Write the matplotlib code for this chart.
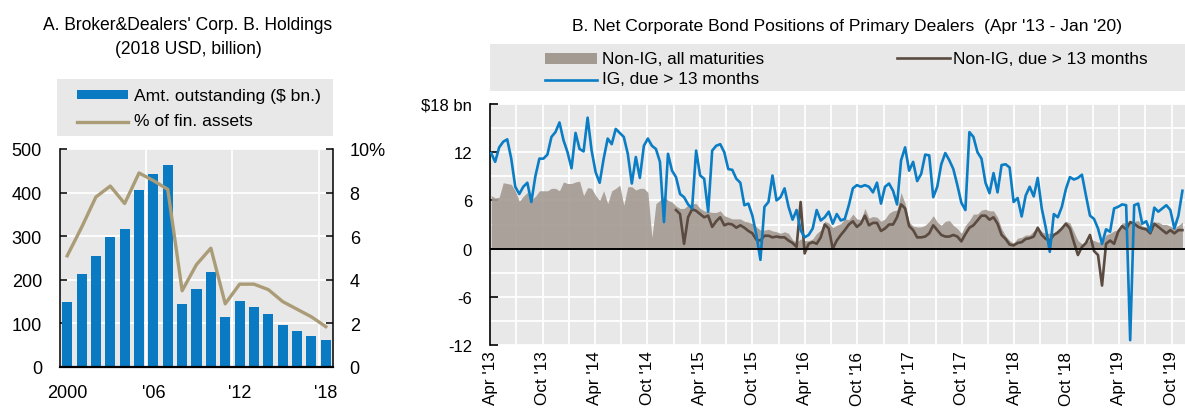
import numpy as np
import pandas as pd
import matplotlib
matplotlib.use("Agg")
import matplotlib.pyplot as plt
import matplotlib.dates as mdates
from matplotlib.patches import Rectangle
from matplotlib.lines import Line2D
from matplotlib.ticker import FuncFormatter, FixedLocator

plt.rcParams['font.family'] = ['Liberation Sans', 'DejaVu Sans']

# ---------------- data: panel A ----------------
years = list(range(2000, 2019))
amt_outstanding = [150, 213, 255, 299, 316, 406, 443, 463, 144, 180, 217,
                   115, 152, 138, 121, 96, 82, 72, 61]
pct_fin_assets = [5.1, 6.4, 7.8, 8.3, 7.5, 8.9, 8.55, 8.15, 3.5, 4.7, 5.45,
                  2.9, 3.8, 3.8, 3.55, 3.0, 2.65, 2.3, 1.85]
left_xticks = [2000, 2006, 2012, 2018]
left_xlabels = ["2000", "'06", "'12", "'18"]

# ---------------- data: panel B (bi-weekly, $ bn) ----------------
series_start = "2013-04-05"
ig_13m = [11.9, 10.8, 12.6, 13.3, 13.6, 11.2, 7.7, 6.8, 7.7, 8.2,
          5.8, 9.0, 11.2, 11.2, 11.7, 13.9, 14.5, 15.7, 13.5, 12.0,
          10.0, 14.4, 12.4, 12.1, 16.3, 12.2, 9.5, 8.2, 11.2, 13.7,
          13.0, 14.9, 14.4, 13.9, 11.8, 8.1, 11.4, 8.8, 12.8, 13.7,
          12.8, 12.4, 10.8, 3.3, 11.8, 9.7, 8.9, 6.8, 6.4, 5.5,
          5.0, 12.2, 9.1, 8.7, 4.6, 12.2, 12.8, 13.0, 12.0, 9.9,
          9.8, 8.7, 8.2, 5.4, 5.6, 4.1, 1.7, -1.4, 5.2, 5.8,
          9.1, 6.0, 6.4, 7.5, 5.2, 3.6, 4.8, 2.3, 1.4, 1.7,
          2.5, 4.8, 3.5, 3.9, 4.6, 3.1, 4.3, 3.5, 3.7, 5.4,
          7.5, 7.9, 7.7, 7.9, 7.7, 7.0, 8.2, 5.6, 7.7, 8.1,
          7.2, 5.5, 11.0, 12.6, 9.7, 10.8, 8.4, 9.3, 11.7, 11.6,
          6.4, 7.7, 10.5, 11.9, 11.0, 9.9, 7.9, 5.7, 4.8, 14.5,
          13.9, 12.0, 11.2, 8.2, 6.9, 9.4, 7.0, 10.4, 10.5, 10.1,
          5.8, 6.3, 4.0, 6.6, 7.7, 6.5, 8.8, 5.0, 2.6, -0.4,
          4.3, 3.9, 5.2, 7.4, 8.9, 8.6, 8.8, 9.2, 6.6, 4.1,
          3.7, 2.5, 0.6, 2.4, 2.1, 5.0, 5.2, 5.5, 5.4, -11.4,
          5.4, 5.6, 3.1, 3.4, 2.1, 5.1, 4.6, 5.0, 5.4, 4.8,
          2.5, 4.1, 7.2]
non_ig_all = [6.6, 6.3, 6.4, 8.2, 8.1, 8.0, 7.2, 5.9, 6.5, 7.0,
              6.1, 6.5, 7.2, 7.2, 7.2, 7.5, 7.5, 7.2, 8.3, 8.1,
              8.1, 8.3, 8.4, 6.6, 7.6, 7.5, 6.6, 6.0, 7.2, 5.6,
              7.2, 7.5, 7.9, 5.4, 7.7, 7.7, 7.3, 7.5, 7.5, 7.0,
              1.4, 5.6, 6.0, 6.5, 6.0, 5.8, 5.3, 5.0, 5.0, 5.4,
              5.6, 5.6, 5.0, 4.7, 4.6, 4.5, 4.5, 4.7, 4.1, 3.9,
              3.7, 3.7, 3.7, 3.4, 3.3, 3.1, 2.7, 2.3, 2.3, 2.4,
              2.2, 2.1, 1.9, 2.1, 1.9, 1.1, 0.8, 1.2, 1.0, 1.0,
              1.2, 1.9, 2.3, 3.4, 3.2, 2.6, 2.9, 3.1, 3.7, 3.6,
              4.3, 3.7, 3.6, 5.0, 3.8, 4.0, 3.9, 3.4, 3.7, 4.4,
              4.7, 4.8, 7.0, 5.6, 3.3, 2.8, 2.7, 2.7, 2.9, 3.4,
              4.1, 3.3, 2.9, 3.4, 3.5, 2.9, 2.5, 1.9, 2.9, 3.5,
              4.3, 4.3, 4.8, 4.9, 4.7, 4.7, 3.9, 2.5, 1.6, 1.0,
              0.7, 1.3, 1.4, 1.7, 1.7, 2.2, 2.6, 2.1, 1.9, 1.9,
              1.9, 2.4, 2.7, 3.4, 3.2, 2.1, 1.0, 0.6, 0.7, 1.2,
              1.0, 0.8, 0.8, 1.7, 1.9, 2.2, 2.3, 3.2, 3.2, 3.4,
              3.4, 3.5, 2.8, 2.7, 2.8, 3.3, 3.3, 3.0, 3.0, 2.8,
              2.5, 2.9, 3.3]
non_ig_13m = [np.nan] * 46 + [
              4.8, 4.3, 0.6, 3.9,
              4.9, 4.7, 4.3, 3.9, 4.1, 2.7, 3.4, 3.9, 2.9, 3.1,
              3.0, 2.6, 2.9, 2.6, 2.2, 1.9, 1.1, 1.0, 1.6, 1.6,
              1.4, 1.5, 1.4, 1.4, 1.0, 0.7, 0.2, 5.8, -0.6, 0.6,
              0.8, 0.6, 1.4, 3.0, 2.5, 0.0, 1.0, 1.7, 2.3, 3.0,
              3.4, 2.7, 3.1, 4.1, 2.9, 3.2, 3.2, 2.2, 2.5, 3.0,
              3.0, 3.9, 5.5, 5.0, 2.8, 2.3, 1.4, 1.4, 1.5, 1.9,
              2.9, 2.3, 1.7, 1.5, 1.5, 1.7, 1.5, 0.9, 1.8, 2.6,
              2.9, 3.5, 4.1, 4.1, 3.6, 3.9, 3.1, 1.7, 1.2, 0.5,
              0.4, 0.7, 0.8, 1.2, 1.3, 1.5, 2.6, 1.7, 1.2, 1.0,
              1.7, 2.0, 2.5, 3.1, 2.5, 0.8, -0.8, 0.2, 0.7, 1.7,
              -0.3, -0.8, -4.6, 0.6, 1.0, 0.6, 2.1, 2.8, 2.4, 3.3,
              3.1, 2.7, 2.5, 2.4, 1.9, 3.1, 2.7, 2.3, 1.9, 2.3,
              1.9, 2.3, 2.3]
right_yticks = [-12, -6, 0, 6, 12, 18]
right_ylabels = ["-12", "-6", "0", "6", "12", "$18 bn"]

# ---------------- style ----------------
W, H = 1185, 410
BG = "#e8e8e8"
BAR_BLUE = "#0a7bc2"
TAN = "#ab9c78"
FILL_GRAY = "#a39a92"
BROWN = "#5a4a3f"
LINE_BLUE = "#0b7dc5"

fig = plt.figure(figsize=(W / 100, H / 100), dpi=100)


def fx(px):
    return px / W


def fy(py):
    return 1 - py / H


def fit_width(t, target_px):
    r = fig.canvas.get_renderer()
    w = t.get_window_extent(renderer=r).width
    t.set_fontsize(t.get_fontsize() * target_px / w)


# ================= Panel A =================
axA = fig.add_axes([fx(60), fy(368), fx(333) - fx(60), fy(150) - fy(368)])
axA.set_facecolor(BG)
axA.set_axisbelow(True)
axA.bar(years, amt_outstanding, width=0.7, color=BAR_BLUE, zorder=2)
axA.set_xlim(1999.5, 2018.5)
axA.set_ylim(0, 500)
axA.set_yticks(range(0, 501, 100))
axA.set_xticks(left_xticks)
axA.set_xticklabels(left_xlabels)
axA.xaxis.set_minor_locator(FixedLocator([2005.5, 2011.5, 2017.5]))
axA.grid(which='minor', axis='x', color='white', lw=1.3)
axA.grid(which='major', axis='y', color='white', lw=1.3)
axA.tick_params(axis='x', which='both', length=0, pad=12, labelsize=13)
axA.tick_params(axis='y', direction='in', length=5, width=1.1, pad=13, labelsize=13)
axA.spines['top'].set_visible(False)
axA.spines['right'].set_visible(False)
axA.spines['left'].set_linewidth(1.1)
axA.spines['bottom'].set_linewidth(1.6)

axA2 = axA.twinx()
axA2.plot(years, pct_fin_assets, color=TAN, lw=2.4, zorder=3)
axA2.set_ylim(0, 10)
axA2.set_yticks(range(0, 11, 2))
axA2.yaxis.set_major_formatter(FuncFormatter(lambda v, p: "10%" if v == 10 else f"{v:.0f}"))
axA2.tick_params(axis='y', direction='in', length=5, width=1.1, pad=12, labelsize=13)
axA2.spines['top'].set_visible(False)
axA2.spines['left'].set_visible(False)
axA2.spines['bottom'].set_visible(False)
axA2.spines['right'].set_linewidth(1.1)

# title A
tA1 = fig.text(fx(188), fy(26), "A. Broker&Dealers' Corp. B. Holdings",
               ha='center', va='center', fontsize=13)
tA2 = fig.text(fx(188), fy(49), "(2018 USD, billion)", ha='center', va='center', fontsize=13)
fit_width(tA1, 290)
tA2.set_fontsize(tA1.get_fontsize())

# legend A
fig.add_artist(Rectangle((fx(57), fy(137)), fx(333) - fx(57), fy(80) - fy(137),
                         transform=fig.transFigure, color=BG, lw=0))
fig.add_artist(Rectangle((fx(77), fy(100)), fx(128) - fx(77), fy(91) - fy(100),
                         transform=fig.transFigure, color=BAR_BLUE, lw=0))
fig.add_artist(Line2D([fx(77), fx(128)], [fy(123), fy(123)], transform=fig.transFigure,
                      color=TAN, lw=2.4))
tL1 = fig.text(fx(134), fy(96), "Amt. outstanding ($ bn.)", ha='left', va='center', fontsize=13)
fit_width(tL1, 186)
tL2 = fig.text(fx(134), fy(122), "% of fin. assets", ha='left', va='center',
               fontsize=tL1.get_fontsize())

# ================= Panel B =================
dates = pd.date_range(series_start, periods=len(ig_13m), freq='14D')
axB = fig.add_axes([fx(490), fy(346), 1 - fx(490), fy(105) - fy(346)])
axB.set_facecolor(BG)
axB.set_axisbelow(True)
axB.fill_between(dates, 0, non_ig_all, color=FILL_GRAY, alpha=0.9, lw=0, zorder=2)
axB.plot(dates, non_ig_13m, color=BROWN, lw=1.9, zorder=3)
axB.plot(dates, ig_13m, color=LINE_BLUE, lw=1.9, zorder=4)
axB.axhline(0, color='black', lw=1.4, zorder=5)

axB.set_xlim(pd.Timestamp("2013-04-01"), pd.Timestamp("2019-11-17"))
axB.set_ylim(-12, 18)
axB.set_yticks(right_yticks)
axB.set_yticklabels(right_ylabels)
axB.yaxis.set_minor_locator(FixedLocator(list(range(-12, 19, 3))))
axB.xaxis.set_major_locator(mdates.MonthLocator(bymonth=[4, 10], bymonthday=1))
axB.xaxis.set_minor_locator(mdates.MonthLocator(bymonth=[1, 4, 7, 10], bymonthday=1))
axB.xaxis.set_major_formatter(FuncFormatter(
    lambda v, p: mdates.num2date(v).strftime("%b '%y")))
axB.grid(which='both', axis='both', color='white', lw=1.3)
axB.tick_params(axis='x', which='both', length=0, pad=4, labelsize=12.3, labelrotation=90)
axB.tick_params(axis='y', which='major', direction='in', length=6, width=1.2, pad=13,
                labelsize=12)
axB.tick_params(axis='y', which='minor', length=0)
for s in ['top', 'right', 'bottom']:
    axB.spines[s].set_visible(False)
axB.spines['left'].set_linewidth(1.2)

# title B
tB = fig.text(fx(572), fy(27),
              "B. Net Corporate Bond Positions of Primary Dealers  (Apr '13 - Jan '20)",
              ha='left', va='center', fontsize=12.6)
fit_width(tB, 549)

# legend B
fig.add_artist(Rectangle((fx(490), fy(92)), 1 - fx(490), fy(45) - fy(92),
                         transform=fig.transFigure, color=BG, lw=0))
fig.add_artist(Rectangle((fx(545), fy(65)), fx(597) - fx(545), fy(54) - fy(65),
                         transform=fig.transFigure, color=FILL_GRAY, lw=0))
fig.add_artist(Line2D([fx(897), fx(950)], [fy(59), fy(59)], transform=fig.transFigure,
                      color=BROWN, lw=1.9))
fig.add_artist(Line2D([fx(545), fx(597)], [fy(81), fy(81)], transform=fig.transFigure,
                      color=LINE_BLUE, lw=1.9))
tg1 = fig.text(fx(602), fy(59), "Non-IG, all maturities", ha='left', va='center',
               fontsize=12.3)
fit_width(tg1, 163)
fsB = tg1.get_fontsize()
fig.text(fx(953), fy(59), "Non-IG, due > 13 months", ha='left', va='center', fontsize=fsB)
fig.text(fx(602), fy(80), "IG, due > 13 months", ha='left', va='center', fontsize=fsB)

fig.savefig("out.png", dpi=100)
